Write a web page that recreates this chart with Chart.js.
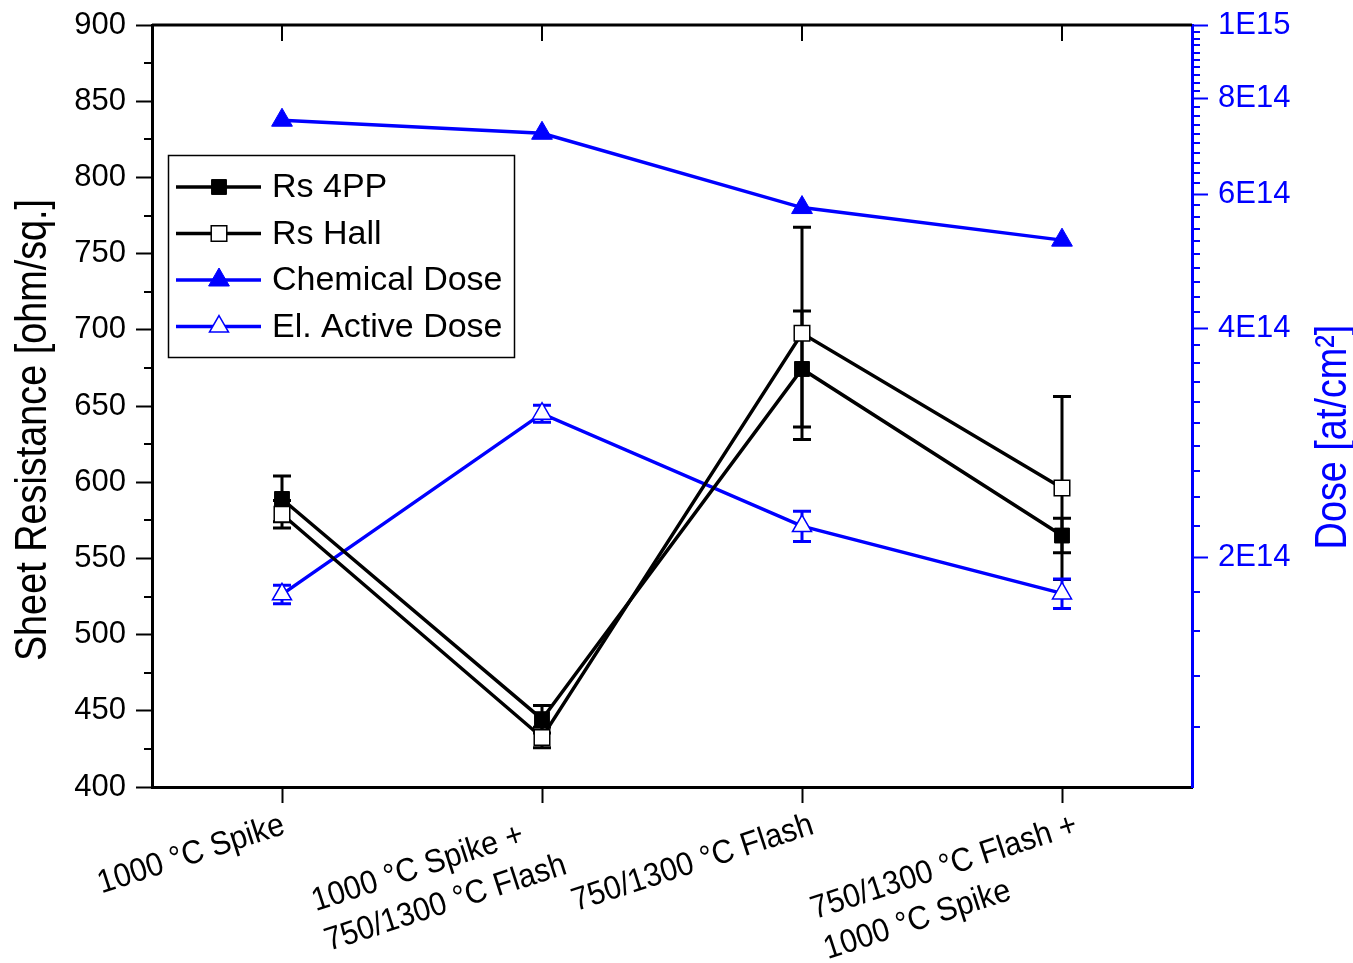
<!DOCTYPE html>
<html>
<head>
<meta charset="utf-8">
<title>Sheet resistance and dose</title>
<script src="https://cdn.jsdelivr.net/npm/chart.js@4/dist/chart.umd.min.js"></script>
<style>
    html, body { margin: 0; padding: 0; background: #ffffff; }
    #chart-wrap { width: 1353px; height: 963px; }
</style>
</head>
<body>
<div id="chart-wrap"><canvas id="rs-dose-chart" width="1353" height="963"></canvas></div>
<script>
const categories = [
    ["1000 °C Spike"],
    ["1000 °C Spike +", "750/1300 °C Flash"],
    ["750/1300 °C Flash"],
    ["750/1300 °C Flash +", "1000 °C Spike"]
];

// sheet resistance, ohm/sq.
const rs4pp = [589, 444.5, 674.3, 565];
const rs4ppErr = [15, 9, 38, 11.3];
const rsHall = [579, 432.5, 697.7, 596.2];
const rsHallErr = [9, 6.7, 69.6, 60];

// dose, at/cm2
const chemicalDose = [7.50e14, 7.21e14, 5.76e14, 5.22e14];
const activeDose = [1.79e14, 3.09e14, 2.20e14, 1.795e14];
const activeDoseErr = [0.05e14, 0.08e14, 0.10e14, 0.08e14];

const rsMinorTicks = [425, 475, 525, 575, 625, 675, 725, 775, 825, 875];
const doseTicks = [2e14, 4e14, 6e14, 8e14, 1e15];
const doseTickLabels = ["2E14", "4E14", "6E14", "8E14", "1E15"];

const BLUE = "#0000ff";
const BLACK = "#000000";
const FONT = "'Liberation Sans', Arial, Helvetica, sans-serif";

const MAJOR_TICK = 16;
const MINOR_TICK = 8;
const AXIS_WIDTH = 3;
const SERIES_WIDTH = 3.5;

const doseMinorTicks = [];
for (let k = 12; k < 100; k += 2) {
    if (k % 20 !== 0) doseMinorTicks.push(k * 1e13);
}

window.addEventListener("DOMContentLoaded", init);

function init() {
    const ctx = document.getElementById("rs-dose-chart");

    new Chart(ctx, {
        type: "line",
        data: {
            labels: categories,
            datasets: [
                {
                    label: "Rs 4PP",
                    data: rs4pp,
                    errorValues: rs4ppErr,
                    yAxisID: "rs",
                    borderColor: BLACK,
                    backgroundColor: BLACK,
                    borderWidth: SERIES_WIDTH,
                    pointStyle: "rect",
                    pointRadius: 10.5,
                    pointBorderWidth: 1,
                    pointBackgroundColor: BLACK,
                    pointBorderColor: BLACK
                },
                {
                    label: "Rs Hall",
                    data: rsHall,
                    errorValues: rsHallErr,
                    yAxisID: "rs",
                    borderColor: BLACK,
                    backgroundColor: "#ffffff",
                    borderWidth: SERIES_WIDTH,
                    pointStyle: "rect",
                    pointRadius: 11,
                    pointBorderWidth: 1.5,
                    pointBackgroundColor: "#ffffff",
                    pointBorderColor: BLACK
                },
                {
                    label: "Chemical Dose",
                    data: chemicalDose,
                    yAxisID: "dose",
                    borderColor: BLUE,
                    backgroundColor: BLUE,
                    borderWidth: SERIES_WIDTH,
                    pointStyle: "triangle",
                    pointRadius: 12,
                    pointBorderWidth: 1,
                    pointBackgroundColor: BLUE,
                    pointBorderColor: BLUE
                },
                {
                    label: "El. Active Dose",
                    data: activeDose,
                    errorValues: activeDoseErr,
                    yAxisID: "dose",
                    borderColor: BLUE,
                    backgroundColor: "#ffffff",
                    borderWidth: SERIES_WIDTH,
                    pointStyle: "triangle",
                    pointRadius: 11,
                    pointBorderWidth: 1.5,
                    pointBackgroundColor: "#ffffff",
                    pointBorderColor: BLUE
                }
            ]
        },
        options: {
            responsive: false,
            animation: false,
            events: [],
            layout: {
                padding: { top: 25, left: 0, right: 0, bottom: 0 }
            },
            plugins: {
                legend: { display: false },
                tooltip: { enabled: false }
            },
            scales: {
                x: {
                    type: "category",
                    offset: true,
                    grid: {
                        offset: false,
                        drawOnChartArea: false,
                        tickLength: MAJOR_TICK,
                        tickWidth: 2,
                        tickColor: BLACK
                    },
                    border: { color: BLACK, width: AXIS_WIDTH },
                    ticks: { display: false },
                    afterFit: scale => { scale.height = 176; }
                },
                rs: {
                    position: "left",
                    min: 400,
                    max: 900,
                    ticks: {
                        stepSize: 50,
                        color: BLACK,
                        padding: 10,
                        font: { family: FONT, size: 31 }
                    },
                    grid: {
                        drawOnChartArea: false,
                        tickLength: MAJOR_TICK,
                        tickWidth: 2,
                        tickColor: BLACK
                    },
                    border: { color: BLACK, width: AXIS_WIDTH },
                    afterFit: scale => {
                        scale.width = 152;
                        scale.paddingTop = 0;
                        scale.paddingBottom = 0;
                    }
                },
                dose: {
                    type: "logarithmic",
                    position: "right",
                    min: 1e14,
                    max: 1e15,
                    afterBuildTicks: scale => {
                        scale.ticks = doseTicks.map(v => ({ value: v }));
                    },
                    ticks: {
                        color: BLUE,
                        padding: 10,
                        font: { family: FONT, size: 31 },
                        callback: (value, index) => doseTickLabels[index]
                    },
                    grid: {
                        drawOnChartArea: false,
                        tickLength: MAJOR_TICK,
                        tickWidth: 2,
                        tickColor: BLUE
                    },
                    border: { color: BLUE, width: AXIS_WIDTH },
                    afterFit: scale => {
                        scale.width = 161;
                        scale.paddingTop = 0;
                        scale.paddingBottom = 0;
                    }
                }
            }
        },
        plugins: [errorBarPlugin, axisExtrasPlugin, legendBoxPlugin]
    });
}

const errorBarPlugin = {
    id: "errorBars",
    beforeDatasetsDraw(chart) {
        const ctx = chart.ctx;
        const xScale = chart.scales.x;

        chart.data.datasets.forEach(ds => {
            if (!ds.errorValues) return;
            const yScale = chart.scales[ds.yAxisID];

            ctx.save();
            ctx.strokeStyle = ds.borderColor;
            ctx.lineWidth = 3;
            ctx.lineCap = "butt";

            ds.data.forEach((value, i) => {
                const err = ds.errorValues[i];
                const px = xScale.getPixelForValue(i);
                const top = yScale.getPixelForValue(value + err);
                const bottom = yScale.getPixelForValue(value - err);

                ctx.beginPath();
                ctx.moveTo(px, top);
                ctx.lineTo(px, bottom);
                ctx.moveTo(px - 9, top);
                ctx.lineTo(px + 9, top);
                ctx.moveTo(px - 9, bottom);
                ctx.lineTo(px + 9, bottom);
                ctx.stroke();
            });

            ctx.restore();
        });
    }
};

const axisExtrasPlugin = {
    id: "axisExtras",
    afterDraw(chart) {
        const ctx = chart.ctx;
        const area = chart.chartArea;
        const xScale = chart.scales.x;
        const rsScale = chart.scales.rs;
        const doseScale = chart.scales.dose;

        ctx.save();

        // top frame line with inward category ticks
        ctx.strokeStyle = BLACK;
        ctx.lineWidth = AXIS_WIDTH;
        ctx.beginPath();
        ctx.moveTo(area.left, area.top);
        ctx.lineTo(area.right, area.top);
        ctx.stroke();

        ctx.lineWidth = 2;
        ctx.beginPath();
        categories.forEach((c, i) => {
            const px = Math.round(xScale.getPixelForValue(i));
            ctx.moveTo(px, area.top);
            ctx.lineTo(px, area.top + MAJOR_TICK);
        });
        ctx.stroke();

        // minor ticks
        ctx.beginPath();
        rsMinorTicks.forEach(v => {
            const py = Math.round(rsScale.getPixelForValue(v));
            ctx.moveTo(area.left - MINOR_TICK, py);
            ctx.lineTo(area.left, py);
        });
        ctx.stroke();

        ctx.strokeStyle = BLUE;
        ctx.beginPath();
        doseMinorTicks.forEach(v => {
            const py = Math.round(doseScale.getPixelForValue(v));
            ctx.moveTo(area.right, py);
            ctx.lineTo(area.right + MINOR_TICK, py);
        });
        ctx.stroke();

        // category labels, slanted; wider blocks sit a little further right
        const squeeze = 0.92;
        const lineHeight = 42;
        const angle = 18 * Math.PI / 180;
        ctx.fillStyle = BLACK;
        ctx.font = `33px ${FONT}`;
        ctx.textAlign = "left";
        ctx.textBaseline = "top";

        categories.forEach((lines, i) => {
            const px = xScale.getPixelForValue(i);
            const blockWidth = Math.max(...lines.map(t => ctx.measureText(t).width));
            const shift = 0.16 * blockWidth * squeeze * Math.cos(angle) - 33;

            ctx.save();
            ctx.translate(px + shift, area.bottom + 22);
            ctx.rotate(-angle);
            ctx.scale(squeeze, 1);
            lines.forEach((text, k) => {
                ctx.fillText(text, -blockWidth, k * lineHeight);
            });
            ctx.restore();
        });

        // axis titles
        drawAxisTitle(ctx, "Sheet Resistance [ohm/sq.]", 46, 430, BLACK);
        drawAxisTitle(ctx, "Dose [at/cm²]", 1346, 437, BLUE);

        ctx.restore();
    }
};

function drawAxisTitle(ctx, text, baselineX, centerY, color) {
    ctx.save();
    ctx.fillStyle = color;
    ctx.font = `45px ${FONT}`;
    ctx.textAlign = "center";
    ctx.textBaseline = "alphabetic";
    ctx.translate(baselineX, centerY);
    ctx.rotate(-Math.PI / 2);
    ctx.scale(0.84, 1);
    ctx.fillText(text, 0, 0);
    ctx.restore();
}

const legendBoxPlugin = {
    id: "legendBox",
    afterDraw(chart) {
        const ctx = chart.ctx;
        const box = { left: 168, top: 155, width: 346, height: 202 };

        ctx.save();
        ctx.fillStyle = "#ffffff";
        ctx.fillRect(box.left, box.top, box.width, box.height);
        ctx.strokeStyle = BLACK;
        ctx.lineWidth = 1.5;
        ctx.strokeRect(box.left + 0.5, box.top + 0.5, box.width, box.height);

        ctx.font = `34px ${FONT}`;
        ctx.textAlign = "left";
        ctx.textBaseline = "middle";

        chart.data.datasets.forEach((ds, i) => {
            const y = 187 + i * 46.5;

            ctx.strokeStyle = ds.borderColor;
            ctx.lineWidth = ds.borderWidth;
            ctx.beginPath();
            ctx.moveTo(176, y);
            ctx.lineTo(261, y);
            ctx.stroke();

            ctx.fillStyle = ds.pointBackgroundColor;
            ctx.strokeStyle = ds.pointBorderColor;
            ctx.lineWidth = ds.pointBorderWidth;
            Chart.helpers.drawPoint(ctx, {
                pointStyle: ds.pointStyle,
                rotation: 0,
                radius: ds.pointRadius,
                borderWidth: ds.pointBorderWidth
            }, 219, y);

            ctx.fillStyle = BLACK;
            ctx.fillText(ds.label, 272, y + 1);
        });

        ctx.restore();
    }
};
</script>
</body>
</html>
